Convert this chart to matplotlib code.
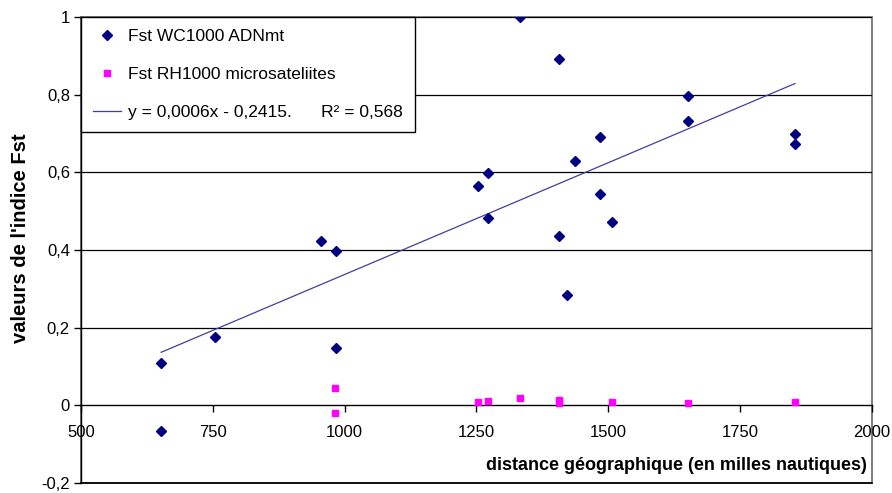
import matplotlib
matplotlib.use("Agg")
import matplotlib.pyplot as plt
import matplotlib.patches as mpatches
import numpy as np

plt.rcParams['font.family'] = ['Liberation Sans', 'DejaVu Sans']

# Fst WC1000 ADNmt (mitochondrial)
dist_mt = [652, 652, 755, 955, 983, 983, 1252, 1271, 1271, 1332, 1407,
           1407, 1421, 1437, 1484, 1484, 1507, 1652, 1652, 1854, 1854]
fst_mt = [0.11, -0.067, 0.177, 0.423, 0.398, 0.147, 0.566, 0.598, 0.483, 1.0, 0.891,
          0.436, 0.285, 0.629, 0.692, 0.544, 0.471, 0.797, 0.733, 0.698, 0.673]

# Fst RH1000 microsatellites
dist_ms = [981, 981, 1252, 1271, 1332, 1407, 1407, 1507, 1652, 1854]
fst_ms = [0.044, -0.02, 0.0095, 0.01, 0.019, 0.013, 0.007, 0.0095, 0.006, 0.008]

x_ticks = [500, 750, 1000, 1250, 1500, 1750, 2000]
y_ticks = [-0.2, 0, 0.2, 0.4, 0.6, 0.8, 1]
y_tick_labels = ["-0,2", "0", "0,2", "0,4", "0,6", "0,8", "1"]

lbl_mt = "Fst WC1000 ADNmt"
lbl_ms = "Fst RH1000 microsateliites"
lbl_fit = "y = 0,0006x - 0,2415.      R\u00b2 = 0,568"

fig = plt.figure(figsize=(8.92, 4.93), dpi=100)
ax = fig.add_axes([81/892, 1-483/493, (872-81)/892, (483-17)/493])

# grid lines
for yv in y_ticks[2:]:
    ax.axhline(yv, color='black', lw=0.9, zorder=1)

# trend line
p = np.polyfit(dist_mt, fst_mt, 1)
xs = np.array([min(dist_mt), max(dist_mt)])
ax.plot(xs, np.polyval(p, xs), color='#3f3fa0', lw=0.9, label=lbl_fit, zorder=2)

ax.plot(dist_mt, fst_mt, 'D', color='#000080', ms=5, mec='#000080', ls='none',
        label=lbl_mt, zorder=3)
ax.plot(dist_ms, fst_ms, 's', color='#ff00ff', ms=4.5, mec='#ff00ff', ls='none',
        label=lbl_ms, zorder=3)

ax.set_xlim(500, 2000)
ax.set_ylim(-0.2, 1)
ax.set_xticks(x_ticks)
ax.set_yticks(y_ticks)
ax.set_yticklabels(y_tick_labels)

ax.spines['bottom'].set_position(('data', 0))
ax.spines['top'].set_visible(False)
ax.spines['right'].set_visible(False)
ax.spines['left'].set_linewidth(1.0)
ax.spines['bottom'].set_linewidth(1.0)
ax.tick_params(axis='both', direction='out', length=5, width=1, labelsize=12, colors='black')
ax.tick_params(axis='x', pad=9)
ax.tick_params(axis='y', pad=3)

# plot area frame
frame = mpatches.Rectangle((0, 0), 1, 1, transform=ax.transAxes, fill=False,
                           edgecolor='#666666', lw=1.2, zorder=0, clip_on=False)
ax.add_patch(frame)
ax.plot([500, 2000], [-0.2, -0.2], color='black', lw=1.2, clip_on=False, zorder=1)

fig.text(867/892, 1-465/493, "distance g\u00e9ographique (en milles nautiques)",
         ha='right', va='center', fontsize=13, fontweight='bold')
fig.text(21/892, 1-238/493, "valeurs de l'indice Fst", rotation=90,
         ha='center', va='center', fontsize=14.5, fontweight='bold')

h, l = ax.get_legend_handles_labels()
leg = ax.legend([h[1], h[2], h[0]], [l[1], l[2], l[0]], loc='upper left',
                bbox_to_anchor=(0, 1), fancybox=False, framealpha=1,
                edgecolor='black', fontsize=12.5, labelspacing=1.3,
                handlelength=1.6, handletextpad=0.4, borderpad=0.7,
                borderaxespad=0)
leg.get_frame().set_linewidth(1.0)

fig.savefig("out.png", dpi=100)
